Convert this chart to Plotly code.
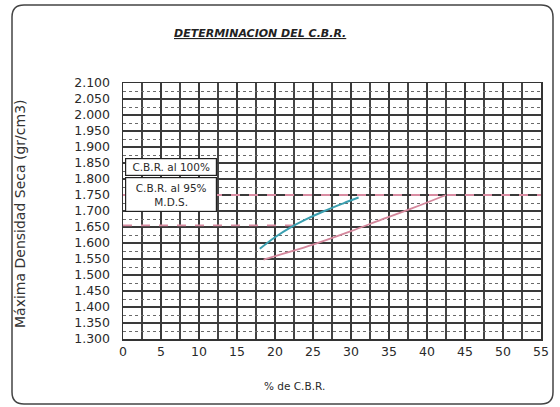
import plotly.graph_objects as go

# ---- data ----
cbr_100_x = [18, 20, 22, 24, 26.5, 29, 31]
cbr_100_y = [1.582, 1.618, 1.648, 1.673, 1.700, 1.724, 1.742]
cbr_95_x = [18.5, 21, 25, 30, 34, 38, 42.5]
cbr_95_y = [1.548, 1.566, 1.595, 1.637, 1.673, 1.708, 1.750]
mds_x = [0, 27.5, 55]
mds_y = [1.750, 1.750, 1.750]
mds95_x = [0, 23]
mds95_y = [1.655, 1.655]
x_ticks = list(range(0, 60, 5))
y_ticks = [round(1.30 + 0.05 * i, 3) for i in range(17)]

FONT = "DejaVu Sans, Liberation Sans, Arial, sans-serif"

fig = go.Figure()
fig.add_trace(go.Scatter(x=mds95_x, y=mds95_y, mode="lines",
                         line=dict(color="#d98ca2", width=1.6, dash="dash"), showlegend=False))
fig.add_trace(go.Scatter(x=cbr_95_x, y=cbr_95_y, mode="lines", line_shape="spline",
                         line=dict(color="#d4879c", width=1.8), showlegend=False))
fig.add_trace(go.Scatter(x=cbr_100_x, y=cbr_100_y, mode="lines", line_shape="spline",
                         line=dict(color="#3a9fb0", width=2), showlegend=False))
fig.add_trace(go.Scatter(x=mds_x, y=mds_y, mode="lines",
                         line=dict(color="#d98ca2", width=1.8, dash="dash"), showlegend=False))

L, R, T, B = 123, 19, 83, 68
W, H = 560, 407
pw, ph = W - L - R, H - T - B

def px(x):
    return (x - L) / pw

def py(y):
    return 1 - (y - T) / ph

fig.update_layout(
    width=W, height=H,
    margin=dict(l=L, r=R, t=T, b=B),
    paper_bgcolor="white", plot_bgcolor="white",
    font=dict(family=FONT, color="#2a2a2a"),
    xaxis=dict(range=[0, 55], tickvals=x_ticks, ticktext=[str(v) for v in x_ticks],
               showgrid=True, gridcolor="#3a3a3a", gridwidth=1.5,
               minor=dict(dtick=2.5, showgrid=True, gridcolor="#454545", gridwidth=1.5),
               showline=True, linecolor="#333", linewidth=1.5, mirror=True, zeroline=False,
               tickfont=dict(size=12.5), ticks="", fixedrange=True),
    yaxis=dict(range=[1.3, 2.1], tickvals=y_ticks, ticktext=[f"{v:.3f}" for v in y_ticks],
               showgrid=True, gridcolor="#3a3a3a", gridwidth=1.5,
               minor=dict(dtick=0.025, showgrid=True, gridcolor="#6a6a6a", gridwidth=1, griddash="dot"),
               showline=True, linecolor="#333", linewidth=1.5, mirror=True, zeroline=False,
               tickfont=dict(size=12.5), ticks="", ticklabelstandoff=9, fixedrange=True),
    showlegend=False,
)

x0, x1 = px(12), px(553)
y1, y0 = py(5), py(404)
rx, ry = 12 / pw, 12 / ph
path = (f"M {x0+rx},{y1} L {x1-rx},{y1} Q {x1},{y1} {x1},{y1-ry} "
        f"L {x1},{y0+ry} Q {x1},{y0} {x1-rx},{y0} L {x0+rx},{y0} "
        f"Q {x0},{y0} {x0},{y0+ry} L {x0},{y1-ry} Q {x0},{y1} {x0+rx},{y1} Z")
fig.add_shape(type="path", path=path, xref="paper", yref="paper",
              line=dict(color="#444", width=1.5), layer="below")

fig.add_annotation(text="<b><i><u>DETERMINACION DEL C.B.R.</u></i></b>",
                   xref="paper", yref="paper", x=px(260), y=py(33), xanchor="center", yanchor="middle",
                   showarrow=False, font=dict(size=11, color="#222"))
fig.add_annotation(text="% de C.B.R.", xref="paper", yref="paper", x=px(294), y=py(386),
                   xanchor="center", yanchor="middle", showarrow=False, font=dict(size=10.5))
fig.add_annotation(text="Máxima Densidad Seca (gr/cm3)", xref="paper", yref="paper",
                   x=px(20), y=py(214), xanchor="center", yanchor="middle", textangle=-90,
                   showarrow=False, font=dict(size=14, color="#333"))

fig.add_annotation(text="C.B.R. al 100%", xref="paper", yref="paper", x=px(171), y=py(167),
                   xanchor="center", yanchor="middle",
                   showarrow=False, width=90, height=16, bgcolor="white",
                   bordercolor="#222", borderwidth=1.2, borderpad=0, font=dict(size=10.5))
fig.add_annotation(text="C.B.R. al 95%<br>M.D.S.", xref="paper", yref="paper", x=px(171), y=py(194.5),
                   xanchor="center", yanchor="middle",
                   showarrow=False, width=90, height=33, bgcolor="white",
                   bordercolor="#222", borderwidth=1.2, borderpad=0, font=dict(size=10.5))

fig.write_html("out.html", config={"displayModeBar": False, "staticPlot": True})
with open("out.html", "r", encoding="utf-8") as f:
    html = f.read()
html = html.replace("<head>", "<head><style>html,body{margin:0;padding:0;overflow:hidden;}</style>", 1)
with open("out.html", "w", encoding="utf-8") as f:
    f.write(html)
